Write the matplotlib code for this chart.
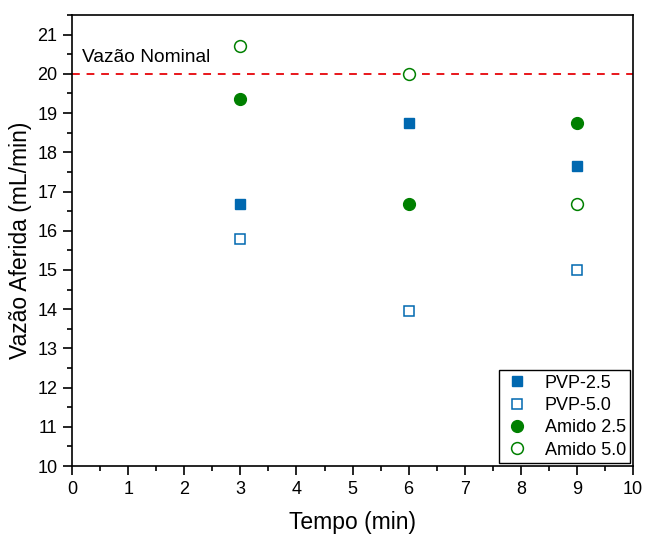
import matplotlib
matplotlib.use("Agg")
import matplotlib.pyplot as plt
from matplotlib.ticker import MultipleLocator

plt.rcParams['font.family'] = ['Liberation Sans', 'DejaVu Sans']

tempo = [3, 6, 9]
pvp25 = [16.67, 18.75, 17.65]
pvp50 = [15.8, 13.95, 15.0]
amido25 = [19.35, 16.67, 18.75]
amido50 = [20.7, 20.0, 16.67]
nominal = 20.0

blue = '#0068B0'
green = '#008000'

fig = plt.figure(figsize=(6.46, 5.38), dpi=100)
ax = fig.add_axes([0.1115, 0.1338, 0.8685, 0.8382])

ax.axhline(nominal, color='#E8161B', linestyle=(0, (4, 3.5)), linewidth=1.4, zorder=1)
ax.text(0.18, 20.2, 'Vazão Nominal', fontsize=13.8, ha='left', va='bottom')

ax.plot(tempo, pvp25, 's', color=blue, markersize=7, linestyle='none', label='PVP-2.5')
ax.plot(tempo, pvp50, 's', markerfacecolor='white', markeredgecolor=blue, markeredgewidth=1.1,
        markersize=7, linestyle='none', label='PVP-5.0')
ax.plot(tempo, amido25, 'o', color=green, markersize=8.5, linestyle='none', label='Amido 2.5')
ax.plot(tempo, amido50, 'o', markerfacecolor='white', markeredgecolor=green, markeredgewidth=1.1,
        markersize=8.5, linestyle='none', label='Amido 5.0')

ax.set_xlim(0, 10)
ax.set_ylim(10, 21.5)
ax.xaxis.set_major_locator(MultipleLocator(1))
ax.xaxis.set_minor_locator(MultipleLocator(0.5))
ax.yaxis.set_major_locator(MultipleLocator(1))
ax.yaxis.set_minor_locator(MultipleLocator(0.5))
ax.tick_params(which='major', direction='out', length=6.5, width=1.2, labelsize=13, pad=4)
ax.tick_params(which='minor', direction='out', length=3.5, width=1.2)
for s in ax.spines.values():
    s.set_linewidth(1.2)

ax.set_xlabel('Tempo (min)', fontsize=16.5, labelpad=10)
ax.set_ylabel('Vazão Aferida (mL/min)', fontsize=16.5, labelpad=4)

leg = ax.legend(loc='lower right', fontsize=13, frameon=True, fancybox=False,
                edgecolor='black', framealpha=1, borderpad=0.25, labelspacing=0.3,
                handlelength=1.5, handletextpad=0.8, borderaxespad=0.15)
leg.get_frame().set_linewidth(1.0)

fig.savefig('out.png', dpi=100)
